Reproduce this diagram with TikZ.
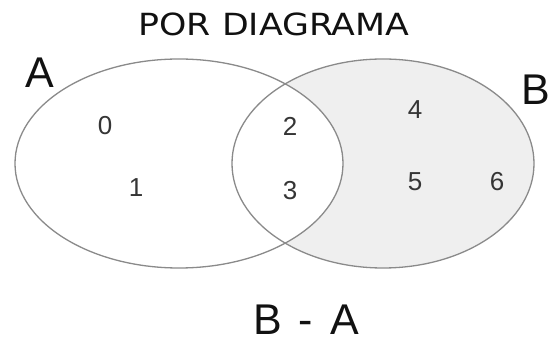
\documentclass[tikz,border=0pt]{standalone}
\usepackage{fontspec}
\setmainfont{Liberation Sans}
\newfontfamily\titlefont{DejaVu Sans}
\definecolor{setline}{HTML}{8A8A8A}
\definecolor{setfill}{HTML}{EFEFEF}
\definecolor{ink}{HTML}{111111}
\begin{document}
\begin{tikzpicture}[x=1pt,y=-1pt,
  setedge/.style={draw=setline,line width=1.3pt},
  elem/.style={text=ink!85,font=\fontsize{26}{26}\selectfont,inner sep=0pt},
  setname/.style={text=ink,font=\fontsize{43}{43}\selectfont,inner sep=0pt}]
  \useasboundingbox (0,0) rectangle (550,344);
  % shaded difference B - A
  \fill[setfill] (383,163.5) ellipse [x radius=151, y radius=104.5];
  \fill[white] (179,163.5) ellipse [x radius=164, y radius=104.5];
  \path[setedge] (179,163.5) ellipse [x radius=164, y radius=104.5];
  \path[setedge] (383,163.5) ellipse [x radius=151, y radius=104.5];
  % titles and set names
  \node[text=ink,inner sep=0pt,font=\titlefont\fontsize{30.5}{30.5}\selectfont,xscale=1.14] (title) at (274,24) {POR DIAGRAMA};
  \node[setname] (nameA) at (40,72.5) {A};
  \node[setname] (nameB) at (536,90) {B};
  \node[setname,anchor=base] (diff) at (306,335) {B\hspace{17pt}-\hspace{17pt}A};
  % elements
  \node[elem] (e0) at (105,126) {0};
  \node[elem] (e1) at (136,187.5) {1};
  \node[elem] (e2) at (290,126) {2};
  \node[elem] (e3) at (290,191) {3};
  \node[elem] (e4) at (415,110) {4};
  \node[elem] (e5) at (415,182) {5};
  \node[elem] (e6) at (497,182) {6};
\end{tikzpicture}
\end{document}
